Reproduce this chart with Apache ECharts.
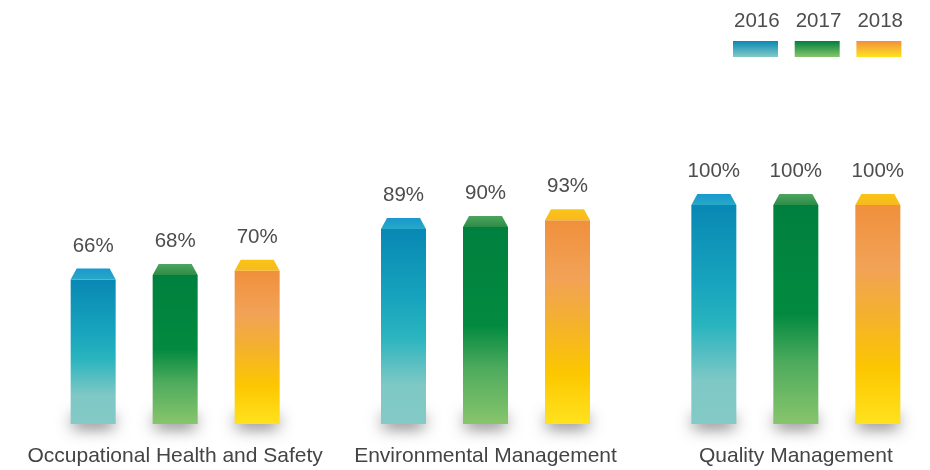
<!DOCTYPE html>
<html>
<head>
<meta charset="utf-8">
<script src="https://cdn.jsdelivr.net/npm/echarts@6/dist/echarts.min.js"></script>
<style>
  html, body { margin: 0; padding: 0; background: #fff; }
  #chart { width: 930px; height: 470px; }
</style>
</head>
<body>
<div id="chart"></div>
<script>
const categories = ['Occupational Health and Safety', 'Environmental Management', 'Quality Management']
const years = ['2016', '2017', '2018']
const values2016 = [66, 89, 100]
const values2017 = [68, 90, 100]
const values2018 = [70, 93, 100]
const seriesValues = [values2016, values2017, values2018]

// body gradient stops, cap colours
const palettes = [
  { body: [[0, '#0888b4'], [0.35, '#17a3bd'], [0.55, '#29b4bf'], [0.8, '#7ec8c5'], [1, '#84cac6']],
    cap: ['#1898cf', '#27a9c6'] },
  { body: [[0, '#00803e'], [0.5, '#038a40'], [0.72, '#4eab5d'], [1, '#88c56c']],
    cap: ['#4ea55f', '#2c8c48'] },
  { body: [[0, '#f0903c'], [0.28, '#f2a257'], [0.5, '#f4b12e'], [0.75, '#fcc700'], [1, '#ffe21e']],
    cap: ['#fac416', '#f8b91f'] }
]

const grad = (stops) => new echarts.graphic.LinearGradient(0, 0, 0, 1,
  stops.map(s => ({ offset: s[0], color: s[1] })))

const chartDom = document.getElementById('chart')
const chart = echarts.init(chartDom)

const BAR_W = 45
const BAR_STEP = 82
const CAP_H = 11
const CAP_INSET = 6

const makeRender = (idx) => (params, api) => {
  const top = api.coord([api.value(0), api.value(1)])
  const base = api.coord([api.value(0), 0])
  const cx = top[0] + (idx - 1) * BAR_STEP
  const x0 = cx - BAR_W / 2
  const h = base[1] - top[1]
  const p = palettes[idx]
  return {
    type: 'group',
    children: [
      {
        // soft floor shadow, hidden behind the bar except for its blur
        type: 'rect',
        shape: { x: x0 + 2, y: base[1] - 12, width: BAR_W - 4, height: 12 },
        style: { fill: '#999999', shadowBlur: 16, shadowColor: 'rgba(0,0,0,0.55)', shadowOffsetY: 4 }
      },
      {
        type: 'rect',
        shape: { x: x0, y: top[1], width: BAR_W, height: h },
        style: { fill: grad(p.body) }
      },
      {
        type: 'polygon',
        shape: {
          points: [
            [x0, top[1]],
            [x0 + CAP_INSET, top[1] - CAP_H],
            [x0 + BAR_W - CAP_INSET, top[1] - CAP_H],
            [x0 + BAR_W, top[1]]
          ]
        },
        style: { fill: grad([[0, p.cap[0]], [1, p.cap[1]]]) }
      },
      {
        type: 'text',
        style: {
          text: api.value(1) + '%',
          x: cx,
          y: top[1] - CAP_H - 12,
          align: 'center',
          verticalAlign: 'bottom',
          fill: '#4d4d4d',
          font: '20.5px "Liberation Sans", Arial, sans-serif'
        }
      }
    ]
  }
}

const legendGraphics = []
years.forEach((y, i) => {
  const left = 733 + i * 61.7
  legendGraphics.push({
    type: 'text',
    left: left + 1,
    top: 11,
    style: {
      text: y,
      fill: '#4d4d4d',
      font: '20.5px "Liberation Sans", Arial, sans-serif'
    }
  })
  legendGraphics.push({
    type: 'rect',
    left: left,
    top: 41,
    shape: { width: BAR_W, height: 16 },
    style: { fill: grad(palettes[i].body.filter((s, k) => k === 0 || k === palettes[i].body.length - 1)) }
  })
})

const option = {
  animation: false,
  grid: {
    left: 20,
    width: 931,
    top: 205,
    bottom: 46,
    outerBoundsMode: 'none',
    containLabel: false
  },
  xAxis: {
    type: 'category',
    data: categories,
    axisLine: { show: false },
    axisTick: { show: false },
    axisLabel: {
      fontSize: 21,
      color: '#444444',
      fontFamily: '"Liberation Sans", Arial, sans-serif',
      margin: 22,
      interval: 0
    }
  },
  yAxis: {
    type: 'value',
    min: 0,
    max: 100,
    show: false,
    splitLine: { show: false }
  },
  graphic: legendGraphics,
  series: years.map((y, i) => ({
    name: y,
    type: 'custom',
    renderItem: makeRender(i),
    clip: false,
    data: seriesValues[i].map((v, k) => [k, v])
  }))
}

chart.setOption(option)
</script>
</body>
</html>
